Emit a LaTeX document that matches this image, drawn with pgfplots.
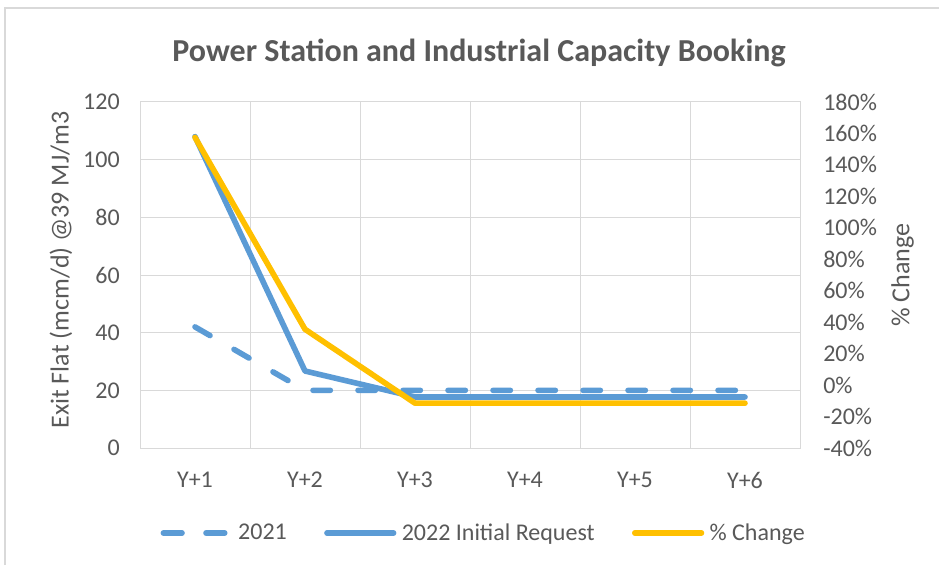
\documentclass[border=0pt]{standalone}
\usepackage{pgfplots}
\pgfplotsset{compat=1.18}
\usepackage{fontspec}
\setmainfont{Carlito}
\definecolor{cblue}{HTML}{5B9BD5}
\definecolor{cgold}{HTML}{FFC000}
\definecolor{cgrid}{HTML}{D9D9D9}
\definecolor{ctext}{HTML}{595959}
\begin{document}
\begin{tikzpicture}
\useasboundingbox (0,0) rectangle (704.25pt,423.75pt);
\fill[white] (0,0) rectangle (704.25pt,423.75pt);
\draw[cgrid, line width=1pt] (3.75pt,0) -- (3.75pt,417.75pt) -- (704.25pt,417.75pt);
\begin{axis}[
  at={(105pt,87.75pt)}, anchor=south west, scale only axis,
  width=495pt, height=259.5pt,
  xmin=0.5, xmax=6.5, ymin=0, ymax=120,
  ytick={0,20,...,120},
  xtick={1,2,3,4,5,6},
  xticklabels={Y+1,Y+2,Y+3,Y+4,Y+5,Y+6},
  minor xtick={1.5,2.5,3.5,4.5,5.5},
  xminorgrids, ymajorgrids,
  major tick length=0pt, minor tick length=0pt,
  grid style={cgrid, line width=0.75pt},
  minor grid style={cgrid, line width=0.75pt},
  axis line style={cgrid, line width=0.75pt},
  tick style={draw=none},
  tick label style={font=\fontsize{18}{20}\selectfont, text=ctext},
  /pgf/number format/assume math mode=true,
  yticklabel style={anchor=east, inner sep=0pt, xshift=-15pt},
  xticklabel style={anchor=north, inner sep=0pt, yshift=-18pt},
]
\addplot[cblue, line width=4.2pt, line cap=round, line join=round, dash pattern=on 13pt off 20.75pt]
  coordinates {(1,42) (2,20) (3,20) (4,20) (5,20) (6,20)};
\addplot[cblue, line width=4.2pt, line cap=round, line join=round]
  coordinates {(1,108) (2,26.7) (3,17.7) (4,17.7) (5,17.7) (6,17.7)};
\end{axis}
\begin{axis}[
  at={(105pt,87.75pt)}, anchor=south west, scale only axis,
  width=495pt, height=259.5pt,
  xmin=0.5, xmax=6.5, ymin=-40, ymax=180,
  ytick={-40,-20,...,180},
  axis x line=none, axis y line*=right,
  axis line style={draw=none},
  major tick length=0pt, tick style={draw=none},
  tick label style={font=\fontsize{18}{20}\selectfont, text=ctext},
  /pgf/number format/assume math mode=true,
  yticklabel={\pgfmathprintnumber{\tick}\%},
  yticklabel style={anchor=west, inner sep=0pt, xshift=17.25pt},
  legend columns=3,
  legend style={draw=none, fill=none, at={(0.5212,-0.2457)}, anchor=center,
    font=\fontsize{18}{20}\selectfont, text=ctext,
    /tikz/every odd column/.append style={column sep=2pt},
    /tikz/every even column/.append style={column sep=26pt}},
  legend image code/.code={\draw[#1] (0pt,0pt) -- (50pt,0pt);},
]
\addlegendimage{cblue, line width=4.2pt, line cap=round, dash pattern=on 14pt off 18pt}
\addlegendentry{2021}
\addlegendimage{cblue, line width=4.2pt, line cap=round}
\addlegendentry{2022 Initial Request}
\addplot[cgold, line width=4.2pt, line cap=round, line join=round]
  coordinates {(1,157.5) (2,35.5) (3,-11.5) (4,-11.5) (5,-11.5) (6,-11.5)};
\addlegendentry{\% Change}
\end{axis}
\node[rotate=90, font=\fontsize{19.5}{22}\selectfont, text=ctext] at (45.75pt,221.25pt) {Exit Flat (mcm/d) @39 MJ/m3};
\node[rotate=90, font=\fontsize{19.5}{22}\selectfont, text=ctext] at (676.9pt,217.5pt) {\% Change};
\node[anchor=base, font=\fontsize{24}{28}\selectfont\bfseries, text=ctext] at (359.25pt,377.25pt) {Power Station and Industrial Capacity Booking};
\end{tikzpicture}
\end{document}
